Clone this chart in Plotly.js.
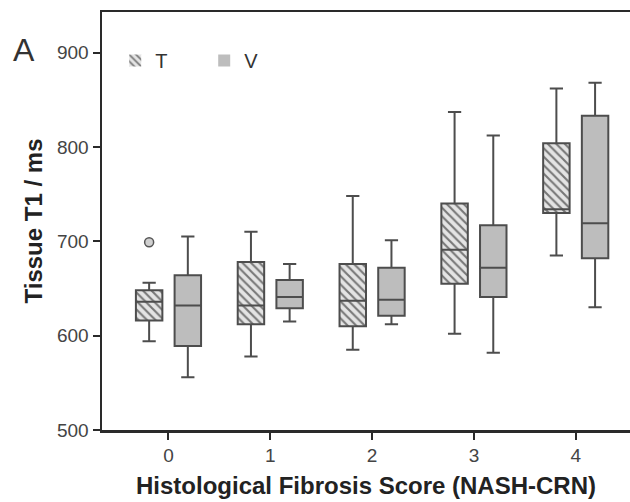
<!DOCTYPE html>
<html>
<head>
<meta charset="utf-8">
<script src="https://cdn.plot.ly/plotly-3.0.1.min.js"></script>
<style>html,body{margin:0;padding:0;background:#fff;}#chart{width:630px;height:502px;}</style>
</head>
<body>
<div id="chart"></div>
<script>
// Histological fibrosis score categories
const categories = [0, 1, 2, 3, 4];
const tickLabels = ['0', '1', '2', '3', '4'];

// Series T (hatched)
const T_low = [594, 578, 585, 602, 685];
const T_q1  = [616, 612, 610, 655, 730];
const T_med = [636, 632, 637, 691, 734];
const T_q3  = [648, 678, 676, 740, 804];
const T_high= [656, 710, 748, 837, 862];

// Series V (grey)
const V_low = [556, 615, 612, 582, 630];
const V_q1  = [589, 629, 621, 641, 682];
const V_med = [632, 641, 638, 672, 719];
const V_q3  = [664, 659, 672, 717, 833];
const V_high= [705, 676, 701, 812, 868];

// Outliers of series T
const T_outlierCat = [0];
const T_outlierVal = [699];

const yTicks = [500, 600, 700, 800, 900];

const GAP = 0.24, GROUPGAP = 0.316;
const tOffset = -(1 - GAP) / 4; // centre of the first group slot

const font = 'Liberation Sans, Arial, sans-serif';
const boxLine = {color: '#4d4d4d', width: 2};

const traces = [
  {type: 'bar', name: 'T', x: categories, base: T_q1,
   y: T_q3.map((v, i) => v - T_q1[i]),
   marker: {color: '#e4e4e4', line: {width: 0},
            pattern: {shape: '\\', fgcolor: '#777777', bgcolor: '#e4e4e4', size: 6, solidity: 0.35}},
   hoverinfo: 'skip', showlegend: true},
  {type: 'bar', name: 'V', x: categories, base: V_q1,
   y: V_q3.map((v, i) => v - V_q1[i]),
   marker: {color: '#bdbdbd', line: {width: 0}},
   hoverinfo: 'skip', showlegend: true},
  {type: 'box', name: 'T', x: categories, q1: T_q1, median: T_med, q3: T_q3,
   lowerfence: T_low, upperfence: T_high, fillcolor: 'rgba(0,0,0,0)', line: boxLine,
   whiskerwidth: 0.5, boxpoints: false, showlegend: false},
  {type: 'box', name: 'V', x: categories, q1: V_q1, median: V_med, q3: V_q3,
   lowerfence: V_low, upperfence: V_high, fillcolor: 'rgba(0,0,0,0)', line: boxLine,
   whiskerwidth: 0.5, boxpoints: false, showlegend: false},
  {type: 'scatter', mode: 'markers', x: T_outlierCat.map(c => c + tOffset), y: T_outlierVal,
   marker: {symbol: 'circle', size: 9, color: '#d0d0d0', line: {color: '#555555', width: 1.5}},
   showlegend: false, hoverinfo: 'skip'}
];

const layout = {
  width: 630, height: 502,
  margin: {l: 102, r: 0, t: 12, b: 72},
  paper_bgcolor: '#ffffff', plot_bgcolor: '#ffffff',
  font: {family: font, color: '#333333', size: 19},
  barmode: 'group', bargap: GAP, bargroupgap: GROUPGAP,
  boxmode: 'group', boxgap: GAP, boxgroupgap: GROUPGAP,
  showlegend: true,
  legend: {orientation: 'h', x: 0.025, xanchor: 'left', y: 0.884, yanchor: 'middle',
           entrywidth: 44, entrywidthmode: 'pixels', font: {size: 20, family: font, color: '#333'},
           bgcolor: 'rgba(0,0,0,0)', traceorder: 'normal'},
  xaxis: {type: 'linear', range: [-0.653, 4.533], tickvals: categories, ticktext: tickLabels,
          showgrid: false, zeroline: false, showline: true, linecolor: '#2a2a2a', linewidth: 2.5,
          mirror: true, ticks: 'outside', ticklen: 7, tickwidth: 2, tickcolor: '#2a2a2a',
          tickfont: {size: 19, family: font, color: '#444'},
          title: {text: '<b>Histological Fibrosis Score (NASH-CRN)</b>', standoff: 12,
                  font: {size: 24, family: font, color: '#222'}}},
  yaxis: {range: [500, 943], tickvals: yTicks, showgrid: false, zeroline: false,
          showline: true, linecolor: '#2a2a2a', linewidth: 2.5,
          ticks: 'outside', ticklen: 7, tickwidth: 2, tickcolor: '#2a2a2a',
          tickfont: {size: 19, family: font, color: '#444'},
          title: {text: '<b>Tissue T1 / ms</b>', standoff: 8,
                  font: {size: 24, family: font, color: '#222'}}},
  annotations: [{text: 'A', xref: 'paper', yref: 'paper', x: -0.148, y: 0.908,
                 xanchor: 'center', yanchor: 'middle', showarrow: false,
                 font: {size: 32, family: font, color: '#333'}}]
};

Plotly.newPlot('chart', traces, layout, {displayModeBar: false, staticPlot: true});
</script>
</body>
</html>
